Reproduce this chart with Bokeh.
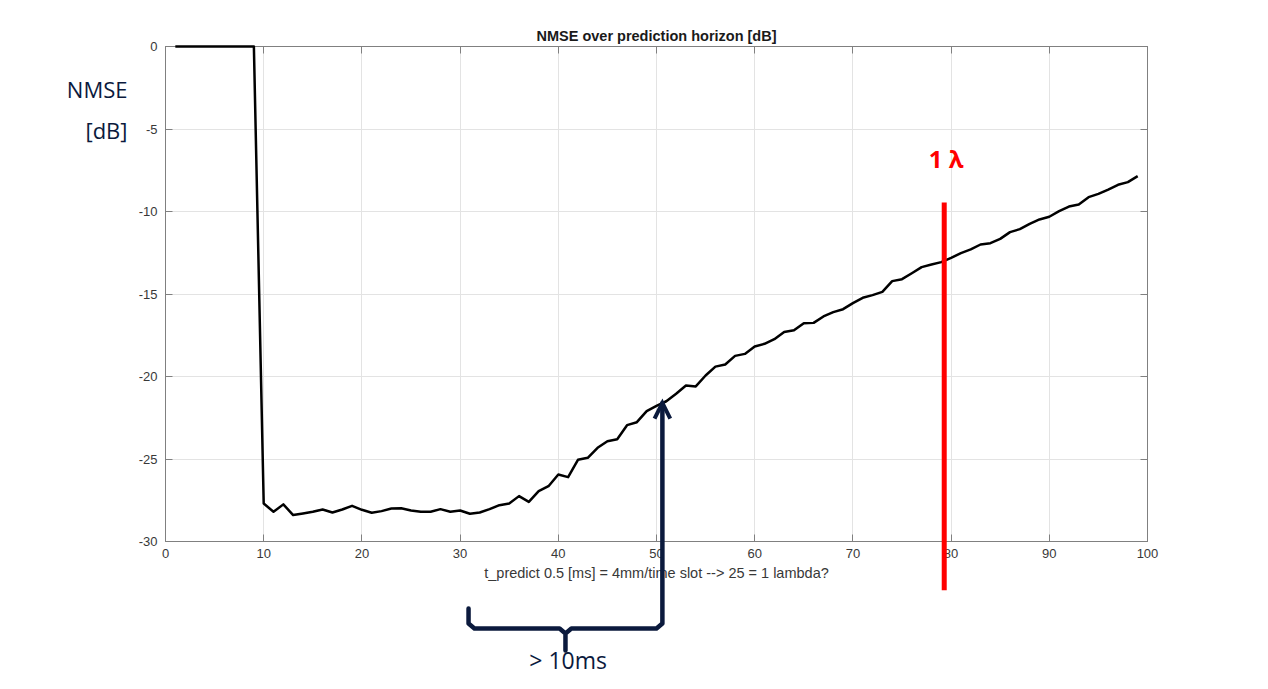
from bokeh.plotting import figure
from bokeh.models import Range1d, LinearAxis, FixedTicker
from bokeh.core.properties import value
from bokeh.embed import file_html
from bokeh.resources import INLINE

# ---------------- data ----------------
horizon = list(range(1, 100))
nmse_db = [
    0, 0, 0, 0, 0, 0, 0, 0, 0,
    -27.70, -28.20, -27.75, -28.40, -28.30, -28.20, -28.06, -28.24, -28.06, -27.84,
    -28.08, -28.26, -28.16, -28.00, -27.98, -28.12, -28.20, -28.20, -28.04, -28.20,
    -28.12, -28.32, -28.24, -28.04, -27.80, -27.70, -27.25, -27.60, -26.95, -26.65,
    -25.94, -26.10, -25.05, -24.93, -24.32, -23.92, -23.80, -22.95, -22.77, -22.10,
    -21.78, -21.50, -21.05, -20.55, -20.60, -19.94, -19.40, -19.27, -18.75, -18.63,
    -18.18, -18.02, -17.74, -17.30, -17.20, -16.77, -16.75, -16.36, -16.10, -15.92,
    -15.55, -15.23, -15.07, -14.87, -14.22, -14.10, -13.74, -13.37, -13.21, -13.07,
    -12.81, -12.52, -12.30, -12.00, -11.92, -11.66, -11.25, -11.07, -10.75, -10.48,
    -10.32, -9.98, -9.70, -9.58, -9.13, -8.93, -8.67, -8.38, -8.22, -7.86,
]

x_ticks = list(range(0, 101, 10))
y_ticks = list(range(-30, 1, 5))
y_tick_labels = ["-30", "-25", "-20", "-15", "-10", "-5", "0"]

title_text = "NMSE over prediction horizon [dB]"
x_label = "t_predict 0.5 [ms] = 4mm/time slot --> 25 = 1 lambda?"
y_label_lines = ["NMSE", "[dB]"]
y_label_x = [-3.87, -3.87]
y_label_y = [-2.55, -5.09]

lambda_x = 79.3
lambda_y = [-9.45, -32.95]
lambda_text = "1 λ"
lambda_text_pos = (79.5, -6.8)

arrow_x = 50.6
arrow_y = [-35.0, -21.6]
brace_x = [30.86, 40.73, 50.6]     # left end, middle notch, right end
brace_y = [-34.06, -35.27, -36.6]  # top of ends, bar, notch tip
brace_text = "> 10ms"
brace_text_pos = (41.0, -37.2)

NAVY = "#0b1a3d"
AXIS_GRAY = "#808080"
TEXT_GRAY = "#383838"

# ---------------- figure ----------------
W, H = 1266, 686
p = figure(width=W, height=H, output_backend="svg", toolbar_location=None,
           x_range=Range1d(0, 100), y_range=Range1d(-30, 0),
           min_border_left=165, min_border_right=W - 1147,
           min_border_top=46, min_border_bottom=H - 541,
           title=title_text)
p.title.align = "center"
p.title.text_font = "Liberation Sans"
p.title.text_font_size = "14.5px"
p.title.text_font_style = "bold"
p.title.text_color = "#1a1a1a"
p.title.standoff = 6

p.outline_line_color = AXIS_GRAY
p.outline_line_width = 1

def style_axis(ax, show_labels=True):
    ax.axis_line_color = AXIS_GRAY
    ax.major_tick_line_color = AXIS_GRAY
    ax.major_tick_in = 7
    ax.major_tick_out = 0
    ax.minor_tick_line_color = None
    ax.major_label_text_font = "Liberation Sans"
    ax.major_label_text_font_size = "13px"
    ax.major_label_text_color = TEXT_GRAY if show_labels else None
    ax.major_label_standoff = 7

for ax in p.xaxis:
    ax.ticker = FixedTicker(ticks=x_ticks)
    style_axis(ax)
    ax.axis_label = x_label
    ax.axis_label_text_font = "Liberation Sans"
    ax.axis_label_text_font_size = "14.5px"
    ax.axis_label_text_font_style = "normal"
    ax.axis_label_text_color = TEXT_GRAY
    ax.axis_label_standoff = 4
for ax in p.yaxis:
    ax.ticker = FixedTicker(ticks=y_ticks)
    ax.major_label_overrides = dict(zip(y_ticks, y_tick_labels))
    style_axis(ax)
    ax.major_label_standoff = 8

top_ax = LinearAxis(ticker=FixedTicker(ticks=x_ticks))
style_axis(top_ax, show_labels=False)
p.add_layout(top_ax, "above")
right_ax = LinearAxis(ticker=FixedTicker(ticks=y_ticks))
style_axis(right_ax, show_labels=False)
p.add_layout(right_ax, "right")

p.xgrid.ticker = FixedTicker(ticks=x_ticks)
p.ygrid.ticker = FixedTicker(ticks=y_ticks)
p.xgrid.grid_line_color = "#e3e3e3"
p.ygrid.grid_line_color = "#e3e3e3"

# main curve
p.line(horizon, nmse_db, line_color="black", line_width=2.5, line_join="round",
       level="overlay")

# red 1-lambda marker
p.segment(x0=[lambda_x], y0=[lambda_y[0]], x1=[lambda_x], y1=[lambda_y[1]],
          line_color="#ff0000", line_width=5, level="overlay")
p.text(x=[lambda_text_pos[0]], y=[lambda_text_pos[1]], text=[lambda_text],
       text_align="center", text_baseline="middle",
       text_font=value("Open Sans"), text_font_style="bold",
       text_font_size="24px", text_color="#ff0000", level="overlay")

# brace
bx0, bxm, bx1 = brace_x
byt, byb, byn = brace_y
dx, dy = 0.6, 0.3
brace_xs = [bx0, bx0, bx0 + dx, bxm - dx, bxm, bxm, bxm, bxm + dx, bx1 - dx, bx1, bx1]
brace_ys = [byt, byb + dy, byb, byb, byb - dy, byn, byb - dy, byb, byb, byb + dy, arrow_y[1]]
p.line(brace_xs, brace_ys, line_color=NAVY, line_width=4.5, line_join="round",
       line_cap="round", level="overlay")

# arrow head (open V at the tip)
hx, hy = 0.8, 0.95
p.line([arrow_x - hx, arrow_x, arrow_x + hx],
       [arrow_y[1] - hy, arrow_y[1], arrow_y[1] - hy],
       line_color=NAVY, line_width=4, line_join="miter", level="overlay")

p.text(x=[brace_text_pos[0]], y=[brace_text_pos[1]], text=[brace_text],
       text_align="center", text_baseline="middle",
       text_font=value("Open Sans"), text_font_size="23px", text_color=NAVY,
       level="overlay")

# y label (two lines)
p.text(x=y_label_x, y=y_label_y, text=y_label_lines,
       text_align="right", text_baseline="middle",
       text_font=value("Open Sans"), text_font_size="22px", text_color=NAVY,
       level="overlay")

open("out.html", "w").write(file_html(p, INLINE))
